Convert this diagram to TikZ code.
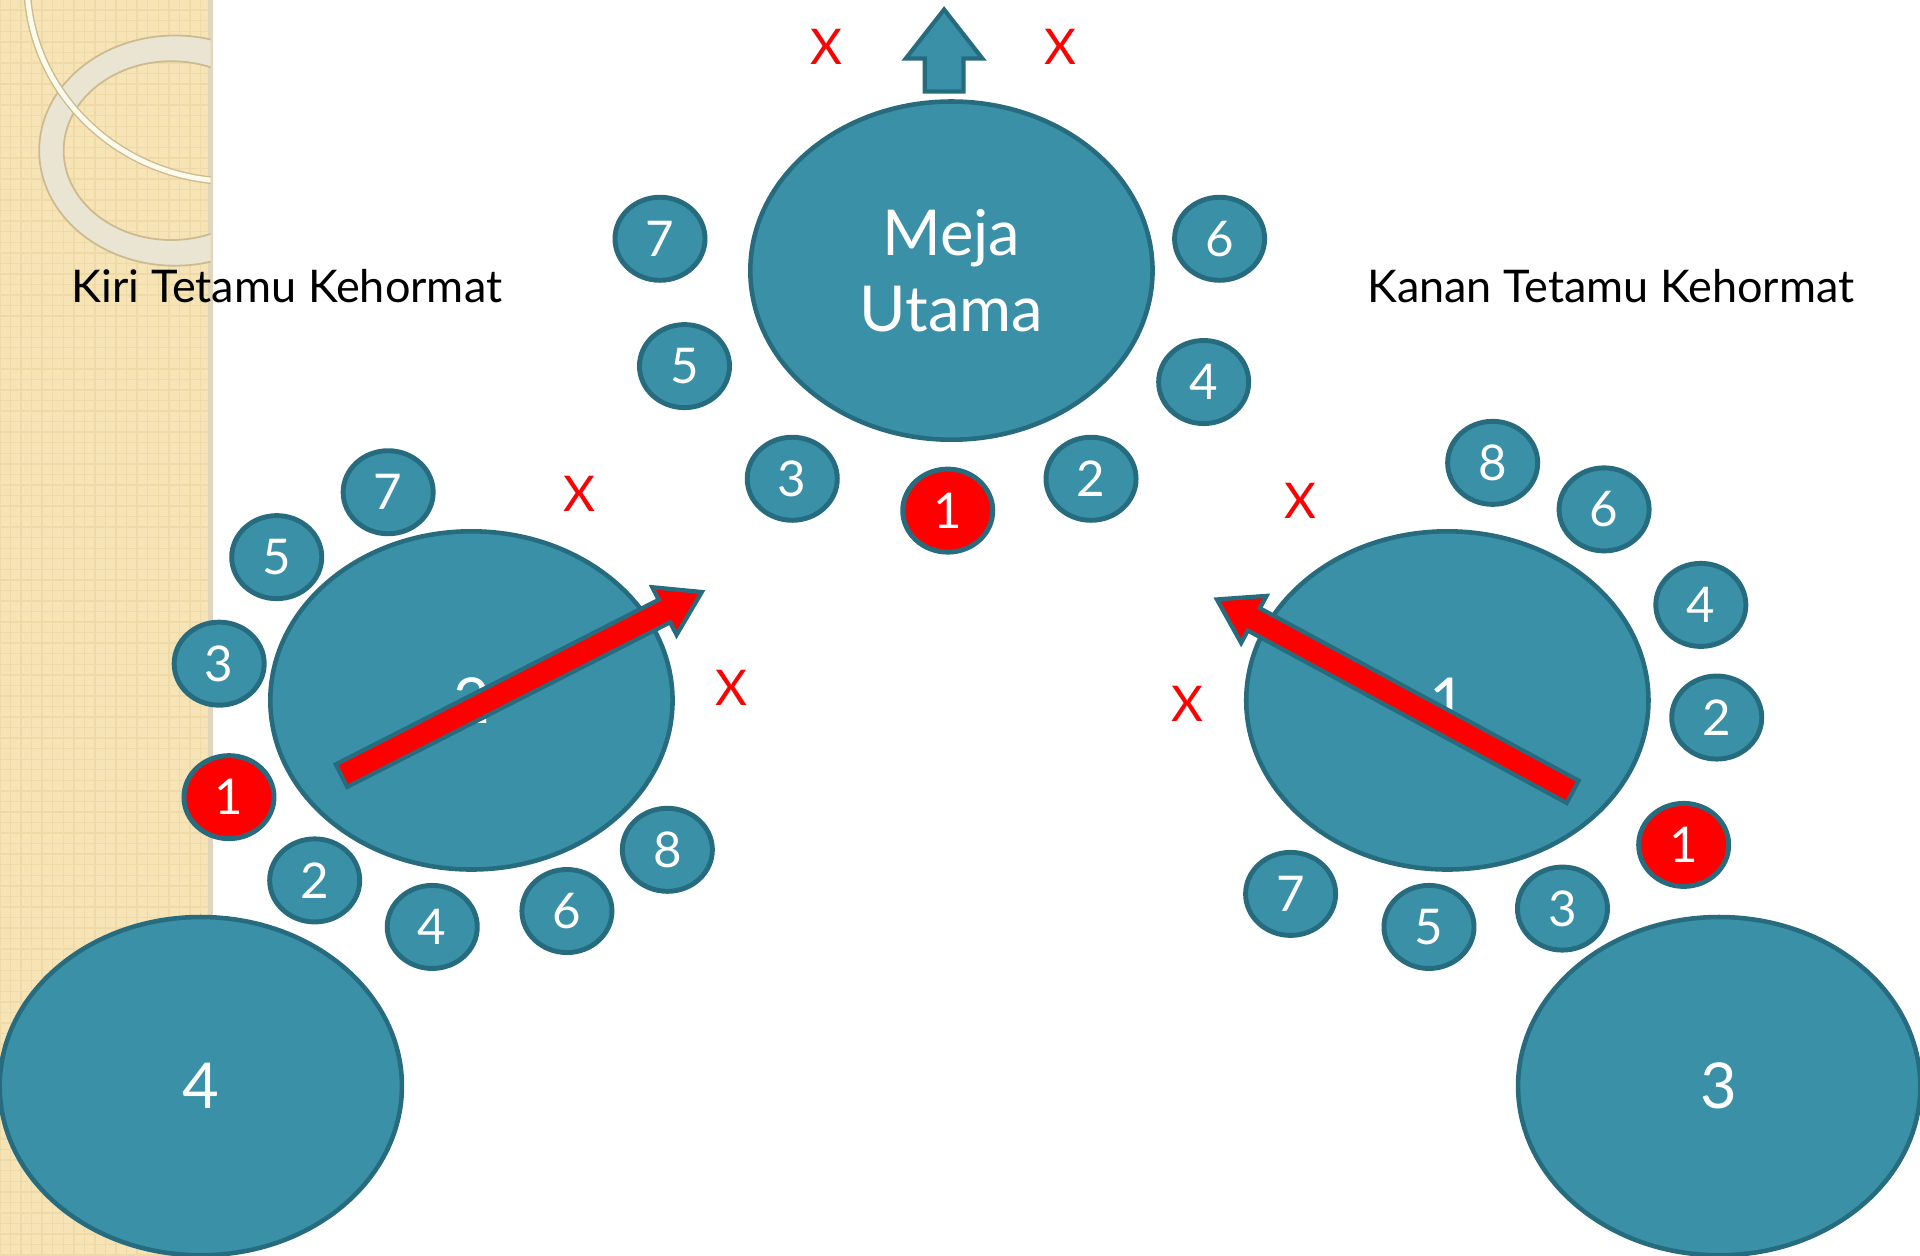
\documentclass[tikz,border=0pt]{standalone}
\usepackage{fontspec}
\setmainfont{Lato}
\usepackage{xcolor}
\usepackage{tikz}
\usetikzlibrary{shapes.geometric,shapes.arrows,patterns}
\definecolor{tablefill}{HTML}{3A91A7}
\definecolor{tableline}{HTML}{276C7E}
\definecolor{seatred}{HTML}{FF0000}
\definecolor{stripbg}{HTML}{F6E4B6}
\definecolor{stripdot}{HTML}{EEDAA6}
\definecolor{ringfill}{HTML}{EAE4D3}
\definecolor{ringedge}{HTML}{CDBB90}
\definecolor{arcfill}{HTML}{FFFBEC}
\tikzstyle{table}=[ellipse, fill=tablefill, draw=tableline, line width=1.3pt, minimum width=4.02cm, minimum height=3.38cm, inner sep=0pt, align=center, text=white, font=\fontsize{18}{21.5}\selectfont]
\tikzstyle{seat}=[ellipse, fill=tablefill, draw=tableline, line width=1.4pt, minimum width=0.9cm, minimum height=0.83cm, inner sep=0pt, text=white, font=\fontsize{14}{14}\selectfont]
\tikzstyle{red seat}=[seat, fill=seatred]
\tikzstyle{cross}=[text=red, inner sep=0pt, font=\fontsize{14}{14}\selectfont]
\tikzstyle{guest label}=[inner sep=0pt, anchor=base west, font=\fontsize{12.8}{14}\selectfont]
\tikzstyle{red arrow}=[single arrow, anchor=tip, fill=seatred, draw=tableline, line width=1.2pt, inner sep=3pt, minimum height=115pt, single arrow head extend=4pt, single arrow tip angle=65]
\tikzstyle{up arrow}=[single arrow, anchor=tip, fill=tablefill, draw=tableline, line width=1.2pt, inner sep=4.9pt, minimum height=23.3pt, single arrow head extend=5.4pt, single arrow tip angle=76]
\pgfdeclarelayer{bglayer}
\pgfdeclarelayer{nodelayer}
\pgfdeclarelayer{edgelayer}
\pgfsetlayers{bglayer,nodelayer,edgelayer,main}

\begin{document}
\begin{tikzpicture}[x=0.012245cm, y=-0.012245cm]
	\useasboundingbox (0,0) rectangle (1568,1025);
	\begin{pgfonlayer}{bglayer}
		\fill[stripbg] (0,0) rectangle (173,1025);
		\fill[pattern=grid, pattern color=stripdot] (0,0) rectangle (173,1025);
		\fill[ringedge!60] (170,0) rectangle (174,1025);
		\begin{scope}
			\clip (0,0) rectangle (172,1025);
			\fill[ringfill, draw=ringedge, line width=0.5pt, even odd rule] (143,123) ellipse [x radius=111, y radius=94] (140,123) ellipse [x radius=88, y radius=73];
			\draw[ringedge, line width=2.2pt] (190,-15) ellipse [x radius=168, y radius=163];
			\draw[arcfill, line width=1.4pt] (190,-15) ellipse [x radius=168, y radius=163];
		\end{scope}
	\end{pgfonlayer}
	\begin{pgfonlayer}{nodelayer}
		\node [style=table] (0) at (777, 221) {Meja\\Utama};
		\node [style=red seat] (1) at (774, 417) {1};
		\node [style=seat] (2) at (891, 391) {2};
		\node [style=seat] (3) at (647, 391) {3};
		\node [style=seat] (4) at (983, 312) {4};
		\node [style=seat] (5) at (559, 299) {5};
		\node [style=seat] (6) at (996, 195) {6};
		\node [style=seat] (7) at (539, 195) {7};

		\node [style=table] (10) at (1182, 572) {1};
		\node [style=red seat] (11) at (1375, 690) {1};
		\node [style=seat] (12) at (1402, 586) {2};
		\node [style=seat] (13) at (1276, 742) {3};
		\node [style=seat] (14) at (1389, 494) {4};
		\node [style=seat] (15) at (1167, 757) {5};
		\node [style=seat] (16) at (1310, 416) {6};
		\node [style=seat] (17) at (1054, 730) {7};
		\node [style=seat] (18) at (1219, 378) {8};

		\node [style=table] (20) at (385, 572) {2};
		\node [style=red seat] (21) at (187, 651) {1};
		\node [style=seat] (22) at (257, 719) {2};
		\node [style=seat] (23) at (179, 542) {3};
		\node [style=seat] (24) at (353, 757) {4};
		\node [style=seat] (25) at (226, 455) {5};
		\node [style=seat] (26) at (463, 744) {6};
		\node [style=seat] (27) at (317, 402) {7};
		\node [style=seat] (28) at (545, 694) {8};

		\node [style=table] (30) at (1404, 887) {3};
		\node [style=table] (40) at (164, 887) {4};

		\node [style=guest label] (41) at (58, 247) {Kiri Tetamu Kehormat};
		\node [style=guest label] (42) at (1116, 247) {Kanan Tetamu Kehormat};
	\end{pgfonlayer}
	\begin{pgfonlayer}{edgelayer}
		\node [style=up arrow, rotate=90] (50) at (771, 5) {};
		\node [style=red arrow, rotate=27] (51) at (576, 482) {};
		\node [style=red arrow, rotate=151.6] (52) at (991, 488) {};
		\node [style=cross] (60) at (675, 38) {X};
		\node [style=cross] (61) at (866, 38) {X};
		\node [style=cross] (62) at (473, 403) {X};
		\node [style=cross] (63) at (597, 562) {X};
		\node [style=cross] (64) at (1062, 409) {X};
		\node [style=cross] (65) at (970, 575) {X};
	\end{pgfonlayer}
\end{tikzpicture}
\end{document}
